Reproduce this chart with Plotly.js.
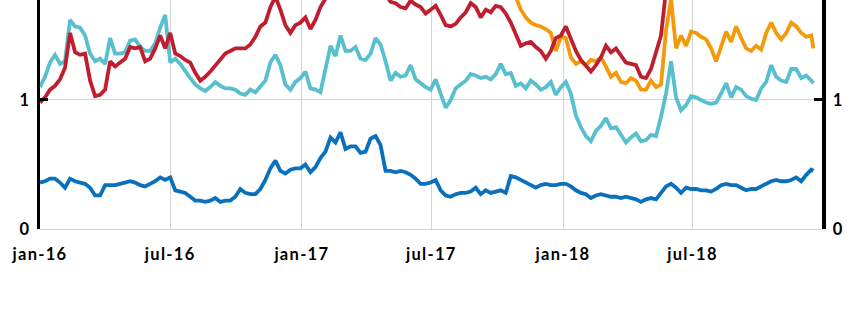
<!DOCTYPE html>
<html><head><meta charset="utf-8">
<script src="https://cdn.plot.ly/plotly-3.0.1.min.js"></script>
<style>html,body{margin:0;padding:0;background:#fff}#c{width:856px;height:309px}
#c .xtick text{letter-spacing:1.3px}</style>
</head><body><div id="c"></div>
<script>
const dates = [
'2016-01-01','2016-01-08','2016-01-15','2016-01-22','2016-01-29','2016-02-05','2016-02-12','2016-02-19','2016-02-26','2016-03-04',
'2016-03-11','2016-03-18','2016-03-25','2016-04-01','2016-04-08','2016-04-15','2016-04-22','2016-04-29','2016-05-06','2016-05-13',
'2016-05-20','2016-05-27','2016-06-03','2016-06-10','2016-06-17','2016-06-24','2016-07-01','2016-07-08','2016-07-15','2016-07-22',
'2016-07-29','2016-08-05','2016-08-12','2016-08-19','2016-08-26','2016-09-02','2016-09-09','2016-09-16','2016-09-23','2016-09-30',
'2016-10-07','2016-10-14','2016-10-21','2016-10-28','2016-11-04','2016-11-11','2016-11-18','2016-11-25','2016-12-02','2016-12-09',
'2016-12-16','2016-12-23','2016-12-30','2017-01-06','2017-01-13','2017-01-20','2017-01-27','2017-02-03','2017-02-10','2017-02-17',
'2017-02-24','2017-03-03','2017-03-10','2017-03-17','2017-03-24','2017-03-31','2017-04-07','2017-04-14','2017-04-21','2017-04-28',
'2017-05-05','2017-05-12','2017-05-19','2017-05-26','2017-06-02','2017-06-09','2017-06-16','2017-06-23','2017-06-30','2017-07-07',
'2017-07-14','2017-07-21','2017-07-28','2017-08-04','2017-08-11','2017-08-18','2017-08-25','2017-09-01','2017-09-08','2017-09-15',
'2017-09-22','2017-09-29','2017-10-06','2017-10-13','2017-10-20','2017-10-27','2017-11-03','2017-11-10','2017-11-17','2017-11-24',
'2017-12-01','2017-12-08','2017-12-15','2017-12-22','2017-12-29','2018-01-05','2018-01-12','2018-01-19','2018-01-26','2018-02-02',
'2018-02-09','2018-02-16','2018-02-23','2018-03-02','2018-03-09','2018-03-16','2018-03-23','2018-03-30','2018-04-06','2018-04-13',
'2018-04-20','2018-04-27','2018-05-04','2018-05-11','2018-05-18','2018-05-25','2018-06-01','2018-06-08','2018-06-15','2018-06-22',
'2018-06-29','2018-07-06','2018-07-13','2018-07-20','2018-07-27','2018-08-03','2018-08-10','2018-08-17','2018-08-24','2018-08-31',
'2018-09-07','2018-09-14','2018-09-21','2018-09-28','2018-10-05','2018-10-12','2018-10-19','2018-10-26','2018-11-02','2018-11-09',
'2018-11-16','2018-11-23','2018-11-30','2018-12-07','2018-12-14','2018-12-17'];

const darkBlue = [
0.36,0.37,0.39,0.39,0.36,0.32,0.39,0.37,0.36,0.35,
0.32,0.26,0.26,0.34,0.34,0.34,0.35,0.36,0.37,0.36,
0.34,0.33,0.35,0.37,0.40,0.38,0.40,0.30,0.29,0.28,
0.25,0.22,0.22,0.21,0.22,0.24,0.21,0.22,0.22,0.25,
0.31,0.28,0.27,0.27,0.31,0.38,0.47,0.53,0.45,0.43,
0.46,0.47,0.47,0.50,0.44,0.48,0.55,0.60,0.71,0.67,
0.75,0.62,0.64,0.64,0.59,0.60,0.70,0.72,0.65,0.45,
0.45,0.44,0.45,0.44,0.42,0.39,0.35,0.35,0.36,0.38,
0.30,0.26,0.25,0.27,0.28,0.28,0.29,0.32,0.27,0.30,
0.28,0.29,0.30,0.28,0.41,0.40,0.38,0.36,0.34,0.32,
0.34,0.35,0.34,0.34,0.35,0.35,0.33,0.30,0.28,0.27,
0.24,0.26,0.27,0.26,0.25,0.25,0.24,0.25,0.24,0.23,
0.21,0.23,0.24,0.23,0.28,0.33,0.35,0.32,0.28,0.32,
0.31,0.31,0.30,0.30,0.29,0.31,0.34,0.35,0.34,0.34,
0.32,0.30,0.31,0.31,0.33,0.35,0.37,0.38,0.37,0.37,
0.38,0.40,0.37,0.42,0.46,0.45];

const lightBlue = [
1.10,1.18,1.29,1.35,1.28,1.30,1.62,1.57,1.56,1.50,
1.36,1.30,1.32,1.28,1.48,1.36,1.36,1.37,1.46,1.47,
1.41,1.38,1.38,1.44,1.56,1.66,1.29,1.32,1.28,1.22,
1.17,1.12,1.09,1.07,1.10,1.14,1.11,1.09,1.09,1.08,
1.05,1.04,1.08,1.06,1.10,1.15,1.29,1.35,1.27,1.12,
1.08,1.14,1.17,1.22,1.09,1.08,1.06,1.25,1.42,1.34,
1.50,1.38,1.38,1.41,1.32,1.31,1.36,1.48,1.43,1.30,
1.15,1.21,1.18,1.19,1.27,1.16,1.13,1.10,1.08,1.16,
1.05,0.94,1.00,1.09,1.12,1.15,1.20,1.19,1.17,1.18,
1.16,1.20,1.28,1.20,1.21,1.11,1.13,1.09,1.15,1.12,
1.08,1.10,1.14,1.04,1.10,1.14,1.05,0.88,0.79,0.72,
0.68,0.76,0.80,0.86,0.78,0.79,0.73,0.67,0.71,0.74,
0.68,0.69,0.73,0.72,0.87,1.05,1.30,1.02,0.92,0.96,
1.03,1.02,1.00,0.98,0.97,0.98,1.05,1.13,1.02,1.10,
1.08,1.03,1.01,1.00,1.09,1.14,1.27,1.18,1.15,1.14,
1.24,1.24,1.17,1.19,1.15,1.13];

const red = [
0.98,1.02,1.08,1.11,1.16,1.25,1.52,1.37,1.35,1.36,
1.15,1.03,1.04,1.08,1.30,1.26,1.29,1.32,1.41,1.40,
1.41,1.30,1.32,1.40,1.50,1.40,1.52,1.36,1.34,1.31,
1.29,1.21,1.15,1.18,1.22,1.27,1.31,1.36,1.38,1.40,
1.40,1.40,1.43,1.49,1.57,1.60,1.72,1.80,1.70,1.58,
1.52,1.58,1.60,1.64,1.55,1.62,1.72,1.79,1.85,1.88,
1.90,1.92,1.90,1.88,1.90,1.92,1.90,1.87,1.85,1.82,
1.76,1.75,1.72,1.71,1.77,1.74,1.72,1.67,1.70,1.73,
1.66,1.58,1.57,1.59,1.64,1.68,1.75,1.72,1.64,1.70,
1.68,1.73,1.72,1.67,1.60,1.51,1.42,1.44,1.45,1.41,
1.38,1.32,1.38,1.48,1.50,1.57,1.47,1.38,1.31,1.27,
1.22,1.27,1.33,1.42,1.37,1.40,1.35,1.29,1.28,1.27,
1.18,1.17,1.24,1.36,1.50,1.85,null,null,null,null,
null,null,null,null,null,null,null,null,null,null,
null,null,null,null,null,null,null,null,null,null,
null,null,null,null,null,null];

const orange = [
null,null,null,null,null,null,null,null,null,null,
null,null,null,null,null,null,null,null,null,null,
null,null,null,null,null,null,null,null,null,null,
null,null,null,null,null,null,null,null,null,null,
null,null,null,null,null,null,null,null,null,null,
null,null,null,null,null,null,null,null,null,null,
null,null,null,null,null,null,null,null,null,null,
null,null,null,null,null,null,null,null,null,null,
null,null,null,null,null,null,null,null,null,null,
null,null,null,null,null,1.80,1.70,1.64,1.60,1.58,
1.57,1.55,1.52,1.38,1.49,1.48,1.33,1.28,1.30,1.27,
1.31,1.30,1.33,1.26,1.18,1.21,1.14,1.13,1.17,1.15,
1.08,1.08,1.15,1.10,1.12,1.54,1.78,1.40,1.50,1.42,
1.53,1.52,1.49,1.47,1.40,1.30,1.41,1.53,1.45,1.57,
1.48,1.40,1.38,1.42,1.39,1.52,1.60,1.52,1.47,1.52,
1.60,1.57,1.52,1.49,1.50,1.40];

const tickDates = ['2016-01-01','2016-07-01','2017-01-01','2017-07-01','2018-01-01','2018-07-01'];
const tickLabels = ['jan-16','jul-16','jan-17','jul-17','jan-18','jul-18'];
const yTicks = [0, 1, 2];

const W = 3.8;
const traces = [
  {x: dates, y: darkBlue, type: 'scatter', mode: 'lines', line: {color: '#0A70BE', width: W}},
  {x: dates, y: lightBlue, type: 'scatter', mode: 'lines', line: {color: '#57BFCE', width: W}},
  {x: dates, y: orange, type: 'scatter', mode: 'lines', line: {color: '#F39A0B', width: W}},
  {x: dates, y: red, type: 'scatter', mode: 'lines', line: {color: '#BF1E2E', width: W}}
];
const font = {family: 'Lato, "Open Sans", sans-serif', size: 16.5, color: '#000', weight: 700};
const layout = {
  width: 856, height: 309,
  margin: {l: 40, r: 34, t: 0, b: 80},
  showlegend: false,
  paper_bgcolor: '#fff', plot_bgcolor: '#fff',
  font: font,
  xaxis: {
    type: 'date', range: ['2016-01-01', '2018-12-29'],
    tickmode: 'array', tickvals: tickDates, ticktext: tickLabels,
    showgrid: true, gridcolor: '#d4d4d4', gridwidth: 1,
    showline: false, zeroline: false, ticks: '', ticklabelstandoff: 13,
    tickfont: font
  },
  yaxis: {
    range: [0, 1.775], tickmode: 'array', tickvals: yTicks, ticktext: ['0','1','2'],
    showgrid: true, gridcolor: '#d4d4d4', gridwidth: 1,
    zeroline: true, zerolinecolor: '#d4d4d4', zerolinewidth: 1,
    showline: true, linecolor: '#000', linewidth: 3.5,
    ticks: 'inside', ticklen: 8, tickwidth: 3, tickcolor: '#000',
    tickfont: font, ticklabelstandoff: 4
  },
  yaxis2: {
    overlaying: 'y', side: 'right', range: [0, 1.775],
    tickmode: 'array', tickvals: yTicks, ticktext: ['0','1','2'],
    showgrid: false, zeroline: false,
    showline: true, linecolor: '#000', linewidth: 3.5,
    ticks: 'inside', ticklen: 8, tickwidth: 3, tickcolor: '#000',
    tickfont: font, ticklabelstandoff: 4
  }
};
traces.push({x: [dates[0]], y: [null], yaxis: 'y2', type: 'scatter', mode: 'lines', showlegend: false, hoverinfo: 'skip'});
Plotly.newPlot('c', traces, layout, {displayModeBar: false, staticPlot: true});
</script>
</body></html>
